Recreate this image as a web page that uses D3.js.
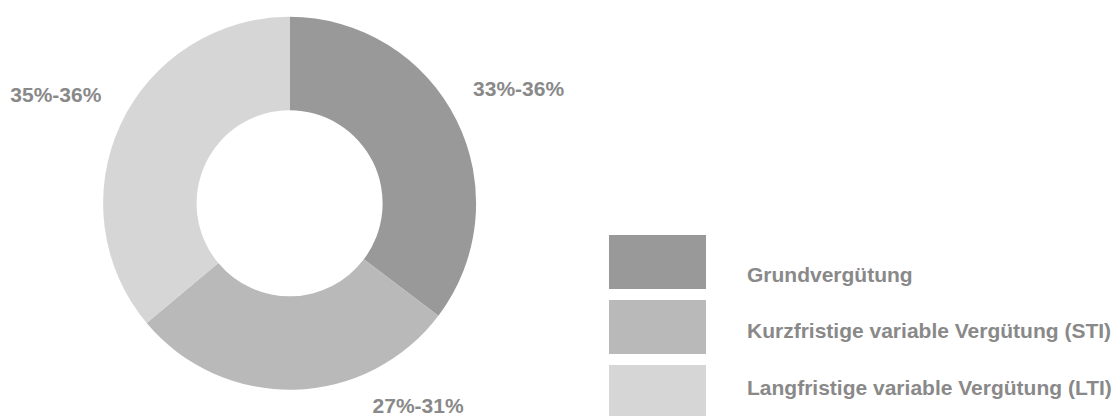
<!DOCTYPE html>
<html>
<head>
<meta charset="utf-8">
<script src="https://cdn.jsdelivr.net/npm/d3@7"></script>
<style>
    body { margin: 0; background: #fff; }
    svg { display: block; font-family: "Liberation Sans", Arial, sans-serif; }
</style>
</head>
<body>
<div id="chart"></div>
<script>
// data
var categories = ["Grundvergütung", "Kurzfristige variable Vergütung (STI)", "Langfristige variable Vergütung (LTI)"];
var shares = [35.3, 28.6, 36.1];
var rangeLabels = ["33%-36%", "27%-31%", "35%-36%"];
var colors = ["#999999", "#b9b9b9", "#d6d6d6"];

var width = 1120, height = 416;
var cx = 289.6, cy = 203.3,
    outerR = 186.5, innerR = 93;

var svg = d3.select("#chart").append("svg")
    .attr("width", width)
    .attr("height", height);

var color = d3.scaleOrdinal()
    .domain(categories)
    .range(colors);

var pie = d3.pie()
    .sort(null)
    .value(function (d) { return d.value; });

var rows = categories.map(function (c, i) {
    return { key: c, value: shares[i], label: rangeLabels[i] };
});
var arcs = pie(rows);

var arc = d3.arc()
    .innerRadius(innerR)
    .outerRadius(outerR);

var g = svg.append("g")
    .attr("transform", "translate(" + cx + "," + cy + ")");

g.selectAll("path")
    .data(arcs)
    .enter().append("path")
    .attr("d", arc)
    .attr("fill", function (d) { return color(d.data.key); });

// labels sit outside the ring; the bottom one is pushed to the right like in the original
var labelArc = d3.arc().innerRadius(258).outerRadius(258);
var nudge = [[-2, 0], [122, -56], [0, 0]];

g.selectAll(".lbl")
    .data(arcs)
    .enter().append("text")
    .attr("class", "lbl")
    .attr("transform", function (d, i) {
        var c = labelArc.centroid(d);
        return "translate(" + (c[0] + nudge[i][0]) + "," + (c[1] + nudge[i][1]) + ")";
    })
    .attr("dy", "0.35em")
    .attr("text-anchor", "middle")
    .attr("font-size", 21)
    .attr("font-weight", "bold")
    .attr("fill", "#898989")
    .text(function (d) { return d.data.label; });

// legend
var legend = svg.selectAll(".legend")
    .data(categories)
    .enter().append("g")
    .attr("class", "legend");

legend.append("rect")
    .attr("x", 609)
    .attr("y", function (d, i) { return 235 + i * 65; })
    .attr("width", 97)
    .attr("height", 54)
    .attr("fill", color);

legend.append("text")
    .attr("x", 747)
    .attr("y", function (d, i) { return 281.5 + i * 56.7; })
    .attr("font-size", 21)
    .attr("font-weight", "bold")
    .attr("fill", "#898989")
    .text(function (d) { return d; });
</script>
</body>
</html>
